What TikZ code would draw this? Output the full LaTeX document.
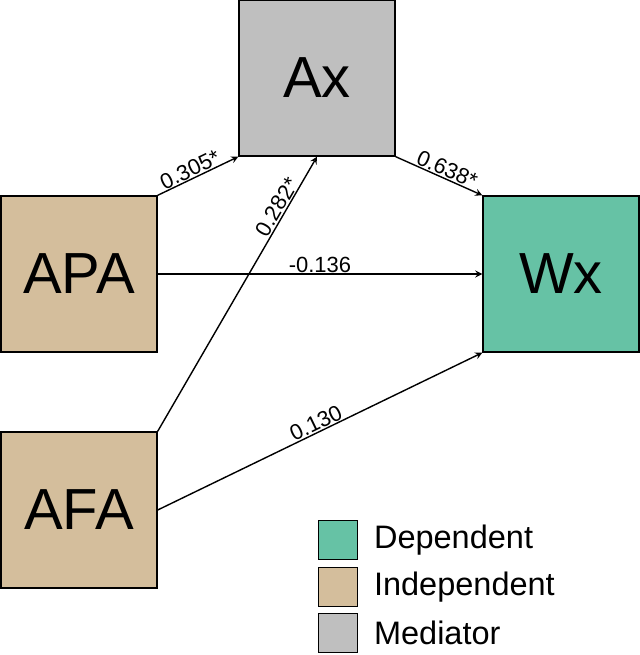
\documentclass[tikz,border=0pt]{standalone}
\usepackage{fontspec}
\setmainfont{Liberation Sans}
\usetikzlibrary{positioning}
\definecolor{tan}{RGB}{212,190,156}
\definecolor{medgray}{RGB}{191,191,191}
\definecolor{teal}{RGB}{102,194,165}
\tikzset{
  var/.style = {rectangle, draw, thick, minimum size=3.12cm, inner sep=0pt, font=\fontsize{33}{36}\selectfont},
  key/.style = {rectangle, draw, minimum size=0.78cm, inner sep=0pt},
  keytext/.style = {right=0.2cm, anchor=west, font=\fontsize{18.5}{21}\selectfont},
  path/.style = {->, thick, >=stealth},
  coef/.style = {font=\fontsize{12.5}{14}\selectfont, sloped, above, inner sep=0.5pt}
}
\begin{document}
\begin{tikzpicture}[x=0.02cm, y=-0.02cm]
                \useasboundingbox (0,0) rectangle (639,655);
                % boxes
                \node[var, fill=medgray] (ax) at (317,78) {Ax};
                \node[var, fill=tan] (apa) at (79,274) {APA};
                \node[var, fill=teal] (wx) at (561,274) {Wx};
                \node[var, fill=tan] (afa) at (79,510) {AFA};
                % paths
                \draw[path] (apa.north east) -- node[coef, pos=0.45] {0.305*} (ax.south west);
                \draw[path] (ax.south east) -- node[coef, pos=0.55] {0.638*} (wx.north west);
                \draw[path] (apa.east) -- node[coef] {-0.136} (wx.west);
                \draw[path] (afa.north east) -- node[coef, pos=0.8] {0.282*} (ax.south);
                \draw[path] (afa.east) -- node[coef] {0.130} (wx.south west);
                % legend
                \node[key, fill=teal] (kdep) at (338,540) {};
                \node[key, fill=tan] (kind) at (338,587) {};
                \node[key, fill=medgray] (kmed) at (338,633) {};
                \node[keytext] at (kdep.east) {Dependent};
                \node[keytext] at (kind.east) {Independent};
                \node[keytext] at (kmed.east) {Mediator};
            \end{tikzpicture}
\end{document}
